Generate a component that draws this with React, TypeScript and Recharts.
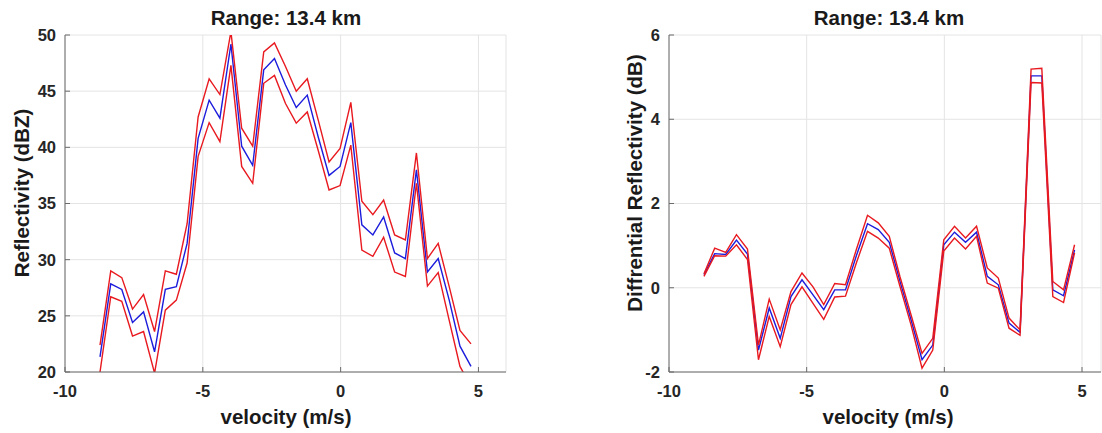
import React from "react";
import { LineChart, Line, XAxis, YAxis, CartesianGrid } from "recharts";

// velocity bins (m/s)
const velocity = [
  -8.73, -8.34, -7.94, -7.55, -7.15, -6.75, -6.36, -5.96, -5.57, -5.17, -4.77, -4.38,
  -3.98, -3.59, -3.19, -2.79, -2.4, -2.0, -1.61, -1.21, -0.81, -0.42, -0.02, 0.37,
  0.77, 1.17, 1.56, 1.96, 2.35, 2.75, 3.15, 3.54, 3.94, 4.33, 4.73,
];

// Reflectivity (dBZ)
const reflMean = [
  21.35, 27.85, 27.35, 24.4, 25.35, 21.8, 27.35, 27.6, 31.45, 40.8, 44.2, 42.6,
  49.2, 40.1, 38.4, 46.9, 47.9, 45.55, 43.55, 44.65, 40.9, 37.5, 38.3, 42.2,
  33.1, 32.2, 33.8, 30.6, 30.1, 38.0, 28.9, 30.1, 26.4, 22.3, 20.5,
];
const reflUpper = [
  22.4, 29.0, 28.4, 25.6, 26.9, 23.6, 29.0, 28.7, 33.2, 42.7, 46.1, 44.7,
  50.3, 41.7, 40.1, 48.5, 49.3, 47.2, 45.0, 46.1, 42.4, 38.7, 39.9, 44.0,
  35.2, 34.0, 35.3, 32.2, 31.75, 39.5, 30.1, 31.45, 27.6, 23.7, 22.5,
];
const reflLower = [
  20.0, 26.7, 26.3, 23.2, 23.6, 19.9, 25.5, 26.4, 29.7, 39.2, 42.2, 40.5,
  47.3, 38.3, 36.8, 45.7, 46.4, 43.9, 42.15, 43.15, 39.7, 36.2, 36.6, 40.2,
  30.85, 30.3, 32.0, 28.9, 28.5, 36.8, 27.65, 28.85, 24.6, 20.5, 18.7,
];

// Differential reflectivity (dB)
const zdrMean = [
  0.31, 0.81, 0.79, 1.13, 0.8, -1.48, -0.48, -1.2, -0.21, 0.19, -0.17, -0.52,
  -0.05, -0.05, 0.77, 1.52, 1.38, 1.08, 0.15, -0.76, -1.71, -1.36, 1.02, 1.32,
  1.08, 1.32, 0.27, 0.07, -0.84, -1.06, 5.03, 5.03, -0.05, -0.19, 0.9,
];
const zdrUpper = [
  0.33, 0.94, 0.84, 1.26, 0.92, -1.36, -0.27, -1.0, -0.09, 0.35, 0.02, -0.4,
  0.1, 0.07, 0.92, 1.72, 1.54, 1.22, 0.26, -0.64, -1.56, -1.2, 1.14, 1.46,
  1.18, 1.46, 0.47, 0.23, -0.72, -1.0, 5.19, 5.21, 0.15, -0.05, 1.02,
];
const zdrLower = [
  0.27, 0.76, 0.75, 1.02, 0.67, -1.71, -0.68, -1.4, -0.4, 0.02, -0.37, -0.75,
  -0.22, -0.2, 0.6, 1.34, 1.18, 0.94, 0.03, -0.88, -1.91, -1.48, 0.87, 1.18,
  0.92, 1.22, 0.11, -0.01, -0.96, -1.13, 4.87, 4.86, -0.21, -0.35, 0.83,
];

const xTicks = [-10, -5, 0, 5];
const reflTicks = [20, 25, 30, 35, 40, 45, 50];
const zdrTicks = [-2, 0, 2, 4, 6];

const titleText = "Range: 13.4 km";
const xLabelText = "velocity (m/s)";
const yLabelLeft = "Reflectivity (dBZ)";
const yLabelRight = "Diffrential Reflectivity (dB)";

const FONT = "'Liberation Sans', Arial, Helvetica, sans-serif";
const AXIS = "#6b6b6b";
const GRID = "#e4e4e4";
const RED = "#e8191f";
const BLUE = "#1c1cdc";

const tickStyle = { fill: "#262626", fontSize: 16.5, fontWeight: 700, fontFamily: FONT };
const Empty = () => <g />;

type PanelProps = {
  left: number;
  width: number;
  yAxisWidth: number;
  marginRight: number;
  xDomain: [number, number];
  yDomain: [number, number];
  yTicks: number[];
  mean: number[];
  upper: number[];
  lower: number[];
};

function Panel(p: PanelProps) {
  const data = velocity.map((v, i) => ({ v, m: p.mean[i], u: p.upper[i], l: p.lower[i] }));
  return (
    <div style={{ position: "absolute", left: p.left, top: 0 }}>
      <LineChart
        width={p.width}
        height={433}
        data={data}
        margin={{ top: 35, right: p.marginRight, bottom: 0, left: 0 }}
      >
        <CartesianGrid stroke={GRID} strokeWidth={1} />
        <XAxis
          dataKey="v"
          type="number"
          domain={p.xDomain}
          ticks={xTicks}
          allowDataOverflow
          height={61}
          stroke={AXIS}
          tickSize={-5}
          tickMargin={18}
          tick={tickStyle}
        />
        <XAxis
          xAxisId="top"
          orientation="top"
          dataKey="v"
          type="number"
          domain={p.xDomain}
          ticks={xTicks}
          allowDataOverflow
          height={0}
          stroke={AXIS}
          tickSize={-5}
          tick={Empty}
        />
        <YAxis
          type="number"
          domain={p.yDomain}
          ticks={p.yTicks}
          allowDataOverflow
          width={p.yAxisWidth}
          stroke={AXIS}
          tickSize={-5}
          tickMargin={14}
          tick={tickStyle}
        />
        <YAxis
          yAxisId="right"
          orientation="right"
          type="number"
          domain={p.yDomain}
          ticks={p.yTicks}
          allowDataOverflow
          width={0}
          stroke={AXIS}
          tickSize={-5}
          tick={Empty}
        />
        <Line type="linear" dataKey="m" stroke={BLUE} strokeWidth={1.4} dot={false} isAnimationActive={false} />
        <Line type="linear" dataKey="u" stroke={RED} strokeWidth={1.4} dot={false} isAnimationActive={false} />
        <Line type="linear" dataKey="l" stroke={RED} strokeWidth={1.4} dot={false} isAnimationActive={false} />
      </LineChart>
    </div>
  );
}

export default function App() {
  const labelStyle = { fontFamily: FONT, fontWeight: 700, fontSize: 20.5, fill: "#1a1a1a" } as const;
  return (
    <div
      style={{
        position: "fixed",
        left: 0,
        top: 0,
        width: 1102,
        height: 433,
        overflow: "hidden",
        background: "#ffffff",
      }}
    >
      <Panel
        left={0}
        width={520}
        yAxisWidth={65}
        marginRight={14}
        xDomain={[-10, 6]}
        yDomain={[20, 50]}
        yTicks={reflTicks}
        mean={reflMean}
        upper={reflUpper}
        lower={reflLower}
      />
      <Panel
        left={560}
        width={560}
        yAxisWidth={109}
        marginRight={19}
        xDomain={[-10, 5.69]}
        yDomain={[-2, 6]}
        yTicks={zdrTicks}
        mean={zdrMean}
        upper={zdrUpper}
        lower={zdrLower}
      />
      <svg
        width={1102}
        height={433}
        style={{ position: "absolute", left: 0, top: 0, pointerEvents: "none" }}
      >
        <text x={286} y={25} textAnchor="middle" {...labelStyle}>{titleText}</text>
        <text x={889} y={25} textAnchor="middle" {...labelStyle}>{titleText}</text>
        <text x={286} y={424} textAnchor="middle" {...labelStyle}>{xLabelText}</text>
        <text x={888} y={424} textAnchor="middle" {...labelStyle}>{xLabelText}</text>
        <text x={29} y={193} textAnchor="middle" transform="rotate(-90 29 193)" {...labelStyle}>
          {yLabelLeft}
        </text>
        <text x={642} y={183} textAnchor="middle" transform="rotate(-90 642 183)" {...labelStyle}>
          {yLabelRight}
        </text>
      </svg>
    </div>
  );
}
